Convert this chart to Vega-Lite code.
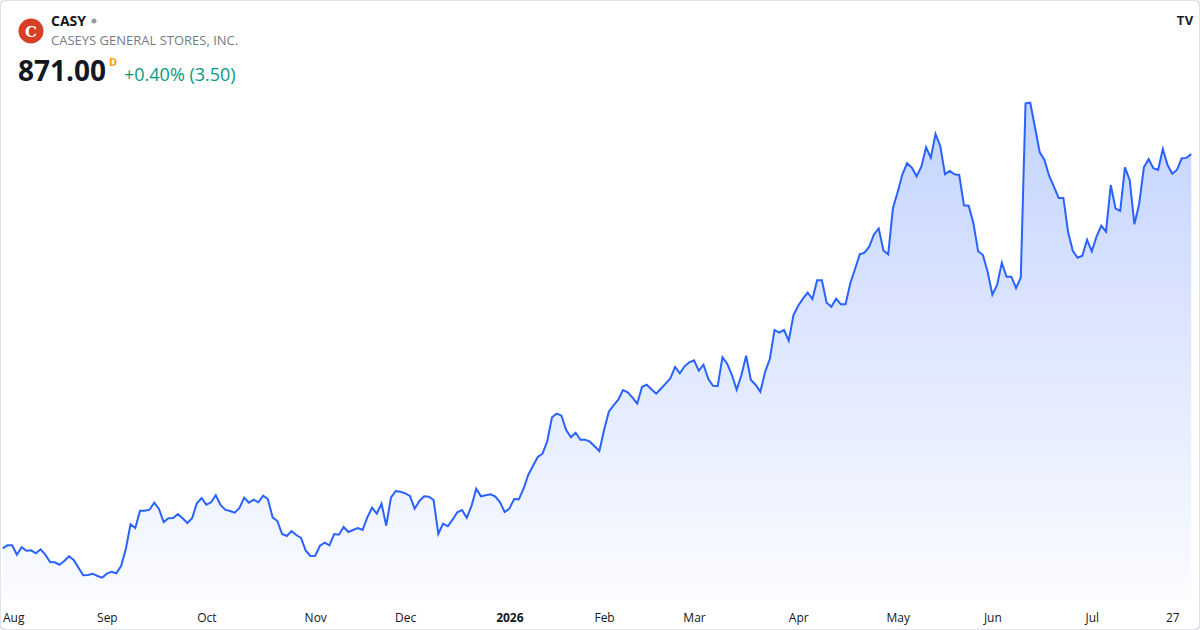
{
  "$schema": "https://vega.github.io/schema/vega-lite/v6.json",
  "width": 1200,
  "height": 630,
  "autosize": {"type": "none"},
  "padding": 0,
  "background": "#ffffff",
  "config": {
    "view": {"stroke": "#e0e3eb", "strokeWidth": 2, "cornerRadius": 6},
    "font": "Open Sans"
  },
  "datasets": {
    "prices": [
      {"i":0,"close":516.13},{"i":1,"close":518.83},{"i":2,"close":518.83},{"i":3,"close":510.37},{"i":4,"close":517.03},
      {"i":5,"close":513.97},{"i":6,"close":514.33},{"i":7,"close":511.63},{"i":8,"close":515.23},{"i":9,"close":510.37},
      {"i":10,"close":503.8},{"i":11,"close":503.53},{"i":12,"close":501.37},{"i":13,"close":504.7},{"i":14,"close":508.93},
      {"i":15,"close":505.6},{"i":16,"close":498.67},{"i":17,"close":491.83},{"i":18,"close":492.1},{"i":19,"close":493.27},
      {"i":20,"close":491.2},{"i":21,"close":489.67},{"i":22,"close":493.27},{"i":23,"close":495.07},{"i":24,"close":493.63},
      {"i":25,"close":500.2},{"i":26,"close":515.5},{"i":27,"close":537.73},{"i":28,"close":534.4},{"i":29,"close":549.97},
      {"i":30,"close":549.97},{"i":31,"close":550.87},{"i":32,"close":557.17},{"i":33,"close":551.5},{"i":34,"close":539.8},
      {"i":35,"close":543.13},{"i":36,"close":543.4},{"i":37,"close":547.0},{"i":38,"close":543.13},{"i":39,"close":538.9},
      {"i":40,"close":543.13},{"i":41,"close":556.63},{"i":42,"close":561.4},{"i":43,"close":555.37},{"i":44,"close":557.53},
      {"i":45,"close":563.83},{"i":46,"close":555.1},{"i":47,"close":550.87},{"i":48,"close":549.7},{"i":49,"close":548.17},
      {"i":50,"close":552.4},{"i":51,"close":561.67},{"i":52,"close":557.17},{"i":53,"close":559.87},{"i":54,"close":557.53},
      {"i":55,"close":563.47},{"i":56,"close":560.5},{"i":57,"close":544.03},{"i":58,"close":540.7},{"i":59,"close":529.0},
      {"i":60,"close":527.2},{"i":61,"close":531.7},{"i":62,"close":528.1},{"i":63,"close":525.4},{"i":64,"close":513.97},
      {"i":65,"close":509.2},{"i":66,"close":509.47},{"i":67,"close":518.47},{"i":68,"close":521.17},{"i":69,"close":518.83},
      {"i":70,"close":529.0},{"i":71,"close":528.37},{"i":72,"close":535.3},{"i":73,"close":530.8},{"i":74,"close":532.6},
      {"i":75,"close":534.4},{"i":76,"close":532.6},{"i":77,"close":544.03},{"i":78,"close":552.67},{"i":79,"close":547.27},
      {"i":80,"close":556.27},{"i":81,"close":536.47},{"i":82,"close":562.03},{"i":83,"close":567.7},{"i":84,"close":567.07},
      {"i":85,"close":565.63},{"i":86,"close":563.2},{"i":87,"close":551.77},{"i":88,"close":558.7},{"i":89,"close":562.93},
      {"i":90,"close":562.57},{"i":91,"close":559.6},{"i":92,"close":529.0},{"i":93,"close":538.27},{"i":94,"close":535.93},
      {"i":95,"close":541.87},{"i":96,"close":548.53},{"i":97,"close":550.6},{"i":98,"close":543.67},{"i":99,"close":554.2},
      {"i":100,"close":569.77},{"i":101,"close":562.93},{"i":102,"close":563.83},{"i":103,"close":564.73},{"i":104,"close":562.93},
      {"i":105,"close":557.8},{"i":106,"close":548.8},{"i":107,"close":551.77},{"i":108,"close":560.5},{"i":109,"close":560.23},
      {"i":110,"close":569.77},{"i":111,"close":582.37},{"i":112,"close":590.47},{"i":113,"close":598.3},{"i":114,"close":601.27},
      {"i":115,"close":612.43},{"i":116,"close":634.03},{"i":117,"close":637.27},{"i":118,"close":635.47},{"i":119,"close":622.6},
      {"i":120,"close":616.03},{"i":121,"close":620.17},{"i":122,"close":613.87},{"i":123,"close":613.87},{"i":124,"close":612.07},
      {"i":125,"close":607.93},{"i":126,"close":603.7},{"i":127,"close":622.6},{"i":128,"close":639.07},{"i":129,"close":644.83},
      {"i":130,"close":649.87},{"i":131,"close":658.6},{"i":132,"close":656.53},{"i":133,"close":651.67},{"i":134,"close":646.27},
      {"i":135,"close":661.3},{"i":136,"close":663.37},{"i":137,"close":659.23},{"i":138,"close":655.27},{"i":139,"close":659.77},
      {"i":140,"close":664.27},{"i":141,"close":669.13},{"i":142,"close":679.3},{"i":143,"close":673.63},{"i":144,"close":679.93},
      {"i":145,"close":683.53},{"i":146,"close":685.33},{"i":147,"close":675.97},{"i":148,"close":681.37},{"i":149,"close":668.77},
      {"i":150,"close":662.47},{"i":151,"close":662.2},{"i":152,"close":688.03},{"i":153,"close":682.27},{"i":154,"close":672.1},
      {"i":155,"close":658.87},{"i":156,"close":671.83},{"i":157,"close":689.47},{"i":158,"close":667.6},{"i":159,"close":663.37},
      {"i":160,"close":657.07},{"i":161,"close":674.8},{"i":162,"close":686.5},{"i":163,"close":712.6},{"i":164,"close":710.17},
      {"i":165,"close":712.6},{"i":166,"close":702.97},{"i":167,"close":726.1},{"i":168,"close":734.47},{"i":169,"close":740.77},
      {"i":170,"close":746.17},{"i":171,"close":740.5},{"i":172,"close":757.33},{"i":173,"close":757.33},{"i":174,"close":737.17},
      {"i":175,"close":733.57},{"i":176,"close":740.77},{"i":177,"close":735.73},{"i":178,"close":735.73},{"i":179,"close":754.63},
      {"i":180,"close":767.5},{"i":181,"close":780.73},{"i":182,"close":782.17},{"i":183,"close":787.57},{"i":184,"close":798.55},
      {"i":185,"close":803.95},{"i":186,"close":784.15},{"i":187,"close":780.73},{"i":188,"close":822.13},{"i":189,"close":836.8},
      {"i":190,"close":852.73},{"i":191,"close":862.63},{"i":192,"close":858.67},{"i":193,"close":850.93},{"i":194,"close":859.57},
      {"i":195,"close":877.03},{"i":196,"close":867.67},{"i":197,"close":889.0},{"i":198,"close":878.2},{"i":199,"close":852.73},
      {"i":200,"close":855.7},{"i":201,"close":852.73},{"i":202,"close":852.1},{"i":203,"close":824.83},{"i":204,"close":824.47},
      {"i":205,"close":808.63},{"i":206,"close":783.43},{"i":207,"close":780.1},{"i":208,"close":765.07},{"i":209,"close":744.37},
      {"i":210,"close":753.1},{"i":211,"close":773.17},{"i":212,"close":760.57},{"i":213,"close":760.57},{"i":214,"close":750.4},
      {"i":215,"close":759.67},{"i":216,"close":916.63},{"i":217,"close":917.17},{"i":218,"close":895.03},{"i":219,"close":872.53},
      {"i":220,"close":865.6},{"i":221,"close":851.2},{"i":222,"close":841.57},{"i":223,"close":831.4},{"i":224,"close":831.4},
      {"i":225,"close":800.53},{"i":226,"close":783.7},{"i":227,"close":777.67},{"i":228,"close":779.47},{"i":229,"close":793.87},
      {"i":230,"close":783.43},{"i":231,"close":796.57},{"i":232,"close":806.47},{"i":233,"close":801.07},{"i":234,"close":843.1},
      {"i":235,"close":822.13},{"i":236,"close":819.7},{"i":237,"close":859.03},{"i":238,"close":847.6},{"i":239,"close":807.73},
      {"i":240,"close":826.0},{"i":241,"close":859.03},{"i":242,"close":866.5},{"i":243,"close":858.13},{"i":244,"close":856.6},
      {"i":245,"close":875.5},{"i":246,"close":861.1},{"i":247,"close":853.27},{"i":248,"close":856.87},{"i":249,"close":867.13},
      {"i":250,"close":867.5},{"i":251,"close":871.0}
    ],
    "header": [
      {"ticker": "CASY", "name": "CASEYS GENERAL STORES, INC.", "last": "871.00", "flag": "D", "change": "+0.40% (3.50)", "logo": "C", "brand": "TV"}
    ]
  },
  "layer": [
    {
      "data": {"name": "prices"},
      "mark": {
        "type": "area",
        "interpolate": "linear",
        "fill": {
          "gradient": "linear",
          "x1": 0, "y1": 0, "x2": 0, "y2": 1,
          "stops": [
            {"offset": 0, "color": "rgba(41,98,255,0.28)"},
            {"offset": 1, "color": "rgba(41,98,255,0.02)"}
          ]
        }
      },
      "encoding": {
        "x": {
          "field": "i",
          "type": "quantitative",
          "scale": {"domain": [-0.57, 252.85], "nice": false, "zero": false},
          "axis": {
            "title": null,
            "domain": false,
            "ticks": false,
            "tickSize": 0,
            "grid": false,
            "offset": -15,
            "labelPadding": 6,
            "labelBaseline": "alphabetic",
            "labelFontSize": 12,
            "labelColor": "#131722",
            "labelFont": "Open Sans",
            "labelFlush": 10,
            "labelFlushOffset": 5,
            "labelOverlap": false,
            "values": [1, 22, 43, 66, 85, 107, 127, 146, 168, 189, 209, 230, 247],
            "labelExpr": "['Aug','Sep','Oct','Nov','Dec','2026','Feb','Mar','Apr','May','Jun','Jul','27'][indexof([1,22,43,66,85,107,127,146,168,189,209,230,247], datum.value)]",
            "labelFontWeight": {"condition": {"test": "datum.value == 107", "value": "bold"}, "value": "normal"}
          }
        },
        "y": {
          "field": "close",
          "type": "quantitative",
          "scale": {"domain": [442.6, 1009.6], "nice": false, "zero": false},
          "axis": null
        },
        "y2": {"datum": 469.6}
      }
    },
    {
      "data": {"name": "prices"},
      "mark": {"type": "line", "color": "#2962ff", "strokeWidth": 2, "interpolate": "linear"},
      "encoding": {
        "x": {"field": "i", "type": "quantitative"},
        "y": {"field": "close", "type": "quantitative"}
      }
    },
    {
      "data": {"name": "header"},
      "mark": {"type": "point", "shape": "circle", "filled": true, "color": "#d63f26", "size": 625, "opacity": 1},
      "encoding": {"x": {"value": 31}, "y": {"value": 31}}
    },
    {
      "data": {"name": "header"},
      "mark": {"type": "text", "font": "DejaVu Serif", "fontWeight": "bold", "fontSize": 15, "color": "#ffffff", "align": "center", "baseline": "middle"},
      "encoding": {"x": {"value": 31}, "y": {"value": 32}, "text": {"field": "logo"}}
    },
    {
      "data": {"name": "header"},
      "mark": {"type": "text", "font": "Open Sans", "fontWeight": "bold", "fontSize": 14, "color": "#131722", "align": "left", "baseline": "alphabetic"},
      "encoding": {"x": {"value": 51}, "y": {"value": 26}, "text": {"field": "ticker"}}
    },
    {
      "data": {"name": "header"},
      "mark": {"type": "point", "shape": "circle", "filled": true, "color": "#9598a1", "size": 25, "opacity": 1},
      "encoding": {"x": {"value": 94}, "y": {"value": 21}}
    },
    {
      "data": {"name": "header"},
      "mark": {"type": "text", "font": "Open Sans", "fontSize": 13, "color": "#787b86", "align": "left", "baseline": "alphabetic"},
      "encoding": {"x": {"value": 51}, "y": {"value": 45}, "text": {"field": "name"}}
    },
    {
      "data": {"name": "header"},
      "mark": {"type": "text", "font": "Open Sans", "fontWeight": "bold", "fontSize": 28, "color": "#131722", "align": "left", "baseline": "alphabetic"},
      "encoding": {"x": {"value": 18}, "y": {"value": 81}, "text": {"field": "last"}}
    },
    {
      "data": {"name": "header"},
      "mark": {"type": "text", "font": "Open Sans", "fontWeight": "bold", "fontSize": 11, "color": "#ff9800", "align": "left", "baseline": "alphabetic"},
      "encoding": {"x": {"value": 109}, "y": {"value": 66}, "text": {"field": "flag"}}
    },
    {
      "data": {"name": "header"},
      "mark": {"type": "text", "font": "Open Sans", "fontSize": 18, "color": "#089981", "align": "left", "baseline": "alphabetic"},
      "encoding": {"x": {"value": 124}, "y": {"value": 81}, "text": {"field": "change"}}
    },
    {
      "data": {"name": "header"},
      "mark": {"type": "text", "font": "Inter", "fontWeight": "bold", "fontSize": 12, "color": "#131722", "align": "center", "baseline": "middle"},
      "encoding": {"x": {"value": 1185}, "y": {"value": 21}, "text": {"field": "brand"}}
    }
  ]
}
